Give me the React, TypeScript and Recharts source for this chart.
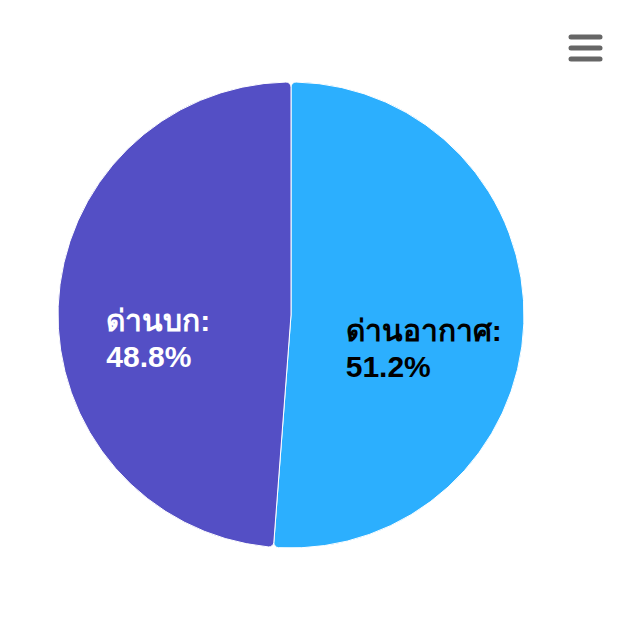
import React from "react";
import { PieChart, Pie, Cell } from "recharts";

const categories = ["ด่านอากาศ", "ด่านบก"];
const shares = [51.2, 48.8];
const colors = ["#2caffe", "#544fc5"];
const labelColors = ["#000000", "#ffffff"];

const data = categories.map((name, i) => ({ name, value: shares[i] }));

const FONT = 'bold 30px "Liberation Sans", Arial, sans-serif';
let ctx: CanvasRenderingContext2D | null = null;
function measure(t: string): number {
  if (!ctx) {
    const c = document.createElement("canvas");
    ctx = c.getContext("2d");
  }
  if (!ctx) return t.length * 15;
  ctx.font = FONT;
  return ctx.measureText(t).width;
}

const RADIAN = Math.PI / 180;

const renderLabel = (props: any) => {
  const { cx, cy, midAngle, outerRadius, index } = props;
  const r = outerRadius * 0.57;
  const px = cx + r * Math.cos(-midAngle * RADIAN);
  const py = cy + r * Math.sin(-midAngle * RADIAN);
  const line1 = categories[index] + ":";
  const line2 = shares[index].toFixed(1) + "%";
  const w = Math.max(measure(line1), measure(line2));
  const x = px - w / 2;
  return (
    <text
      x={x}
      y={py + 21}
      fill={labelColors[index]}
      textAnchor="start"
      style={{ font: FONT }}
    >
      <tspan x={x} y={py + 21}>{line1}</tspan>
      <tspan x={x} y={py + 57}>{line2}</tspan>
    </text>
  );
};

export default function App() {
  return (
    <div style={{ position: "absolute", left: 0, top: 0, width: 634, height: 640, background: "#fff" }}>
      <PieChart width={634} height={640} margin={{ top: 0, right: 0, bottom: 0, left: 0 }}>
        <Pie
          data={data}
          dataKey="value"
          nameKey="name"
          cx={291}
          cy={315}
          outerRadius={233}
          startAngle={90}
          endAngle={-270}
          stroke="#ffffff"
          strokeWidth={1}
          cornerRadius={5}
          label={renderLabel}
          labelLine={false}
          isAnimationActive={false}
        >
          {data.map((d, i) => (
            <Cell key={d.name} fill={colors[i]} />
          ))}
        </Pie>
      </PieChart>
      <svg
        width={40}
        height={40}
        style={{ position: "absolute", left: 566, top: 28 }}
      >
        {[9, 20, 31].map((y) => (
          <line key={y} x1={5} x2={34} y1={y} y2={y} stroke="#666666" strokeWidth={5} strokeLinecap="round" />
        ))}
      </svg>
    </div>
  );
}
